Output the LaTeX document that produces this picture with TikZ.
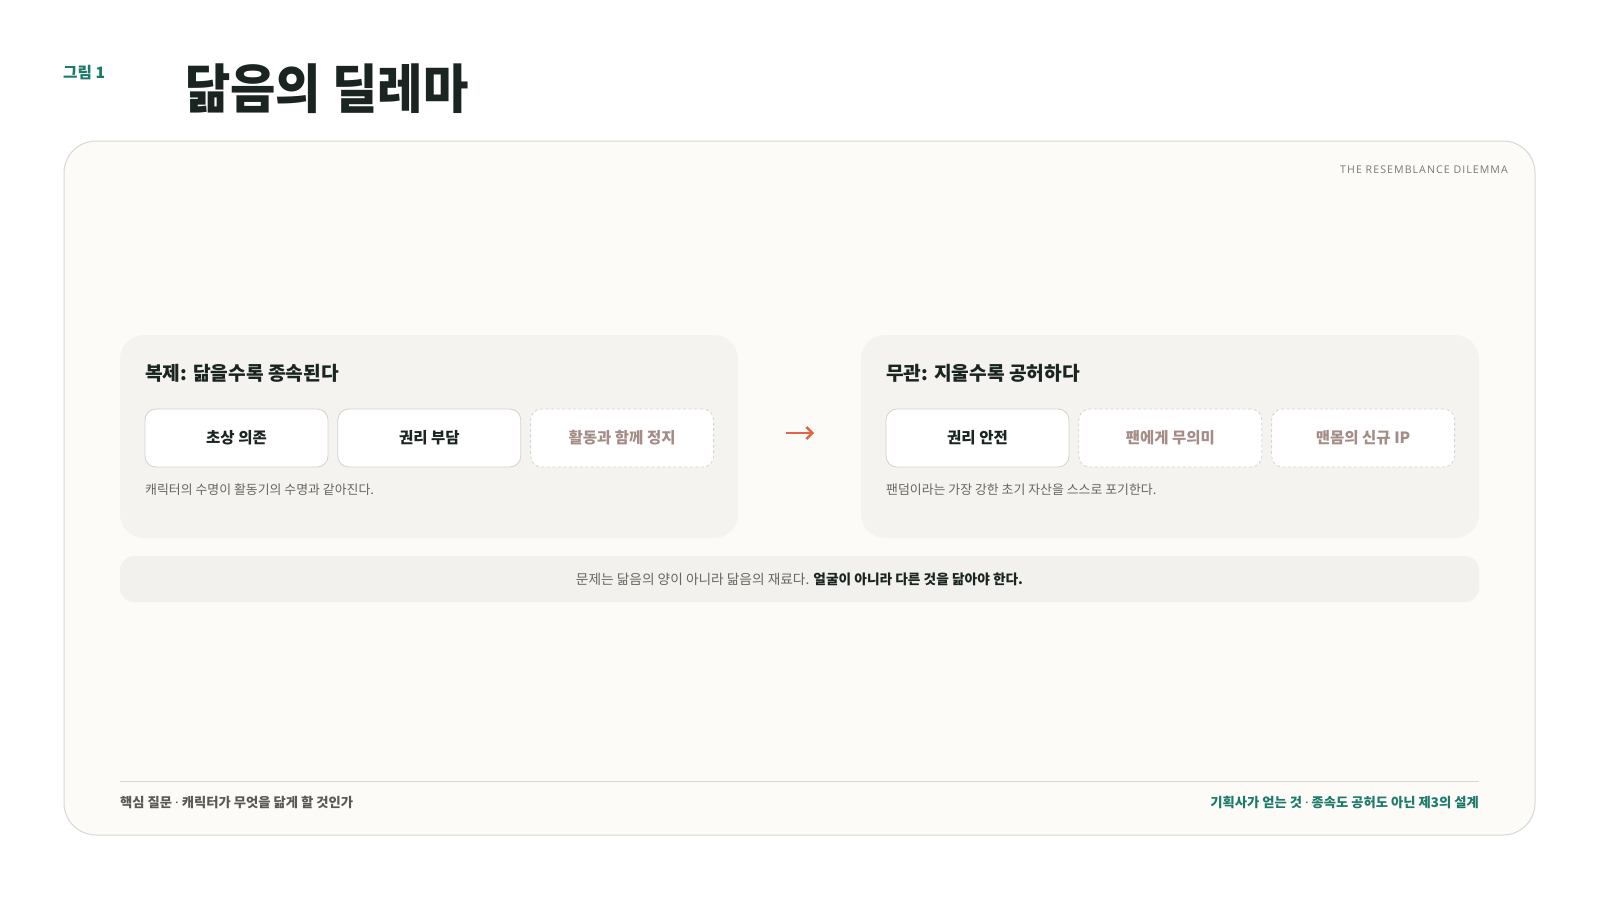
\documentclass[tikz,border=0pt]{standalone}
\usepackage{fontspec}
\usetikzlibrary{positioning,arrows.meta}
\setmainfont{Noto Sans CJK KR}
\newfontfamily\titlefont{Noto Sans CJK KR Black}[FakeStretch=0.93]
\newfontfamily\capsfont{Open Sans}[LetterSpace=10]
\newfontfamily\dotfont{Noto Sans}
\definecolor{ink}{HTML}{1A2420}
\definecolor{tealc}{HTML}{1B7A69}
\definecolor{cardbg}{HTML}{FCFBF8}
\definecolor{cardline}{HTML}{DAD7D0}
\definecolor{panelbg}{HTML}{F4F3EF}
\definecolor{sumbg}{HTML}{F2F1ED}
\definecolor{chipline}{HTML}{D5D2CA}
\definecolor{dashline}{HTML}{D9D3CF}
\definecolor{muted}{HTML}{A38D86}
\definecolor{notegray}{HTML}{67675F}
\definecolor{footgray}{HTML}{5A5A54}
\definecolor{capsgray}{HTML}{7A7A74}
\definecolor{arrowc}{HTML}{E0654A}
\begin{document}
\begin{tikzpicture}[x=1pt,y=-1pt]

    \tikzset{
      card/.style={
        draw=cardline,
        fill=cardbg,
        line width=1pt,
        rounded corners=32pt,
        minimum width=1471pt,
        minimum height=694pt,
        inner sep=0pt,
      },
      panel/.style={
        fill=panelbg,
        rounded corners=24pt,
        minimum width=618pt,
        minimum height=203pt,
        inner sep=0pt,
      },
      chip/.style={
        draw=chipline,
        fill=white,
        line width=0.8pt,
        rounded corners=11pt,
        minimum width=183pt,
        minimum height=58pt,
        inner sep=0pt,
        text=ink,
        font=\fontsize{15.5}{16}\selectfont\bfseries,
      },
      chipdash/.style={
        chip,
        draw=dashline,
        dash pattern=on 3pt off 2.5pt,
        text=muted,
      },
      heading/.style={
        anchor=west,
        inner sep=0pt,
        text=ink,
        font=\fontsize{19.2}{20}\selectfont\bfseries,
      },
      note/.style={
        anchor=west,
        inner sep=0pt,
        text=notegray,
        font=\fontsize{12.9}{13}\selectfont,
      },
      foot/.style={
        inner sep=0pt,
        font=\fontsize{13.3}{14}\selectfont\bfseries,
      },
    }
    \useasboundingbox (0,0) rectangle (1600,900);
    \fill[white] (0,0) rectangle (1600,900);

    % header
    \node[anchor=west, inner sep=0pt, text=tealc, font=\fontsize{15.7}{16}\selectfont\bfseries] (fig) at (63,73) {그림 1};
    \node[anchor=west, inner sep=0pt, text=ink, font=\fontsize{53}{53}\titlefont] (title) at (185,89) {닮음의 딜레마};

    % card
    \node[card] (card) at (799.5,488) {};
    \node[anchor=east, inner sep=0pt, text=capsgray, font=\fontsize{10.6}{11}\capsfont] (tag) at (1508,170) {THE RESEMBLANCE DILEMMA};

    % left panel
    \node[panel] (lpanel) at (429,436.5) {};
    \node[heading] (lhead) at (145,373) {복제: 닮을수록 종속된다};
    \node[chip] (lc1) at (236.5,438) {초상 의존};
    \node[chip, right=9pt of lc1] (lc2) {권리 부담};
    \node[chipdash, right=9pt of lc2] (lc3) {활동과 함께 정지};
    \node[note] (lnote) at (145,489.5) {캐릭터의 수명이 활동기의 수명과 같아진다.};

    % arrow
    \coordinate (a0) at (786,433);
    \coordinate (a1) at (814,433);
    \draw[arrowc, line width=2.4pt, -{Straight Barb[length=6pt,width=12pt]}] (a0) -- (a1);

    % right panel
    \node[panel] (rpanel) at (1170,436.5) {};
    \node[heading] (rhead) at (886,373) {무관: 지울수록 공허하다};
    \node[chip] (rc1) at (977.5,438) {권리 안전};
    \node[chipdash, right=9pt of rc1] (rc2) {팬에게 무의미};
    \node[chipdash, right=9pt of rc2] (rc3) {맨몸의 신규 IP};
    \node[note] (rnote) at (886,489.5) {팬덤이라는 가장 강한 초기 자산을 스스로 포기한다.};

    % summary bar
    \node[fill=sumbg, rounded corners=14pt, minimum width=1359pt, minimum height=46pt, inner sep=0pt] (sumbar) at (799.5,579) {};
    \node[inner sep=0pt, font=\fontsize{13.7}{14}\selectfont, text=notegray] (sumtext) at (799.5,579) {문제는 닮음의 양이 아니라 닮음의 재료다. {\bfseries\color{ink}얼굴이 아니라 다른 것을 닮아야 한다.}};

    % footer
    \draw[cardline, line width=1pt] (120,781) -- (1479,781);
    \node[foot, anchor=west, text=footgray] (lfoot) at (120,802) {핵심 질문 {\dotfont ·} 캐릭터가 무엇을 닮게 할 것인가};
    \node[foot, anchor=east, text=tealc] (rfoot) at (1479,802) {기획사가 얻는 것 {\dotfont ·} 종속도 공허도 아닌 제3의 설계};

\end{tikzpicture}
\end{document}
